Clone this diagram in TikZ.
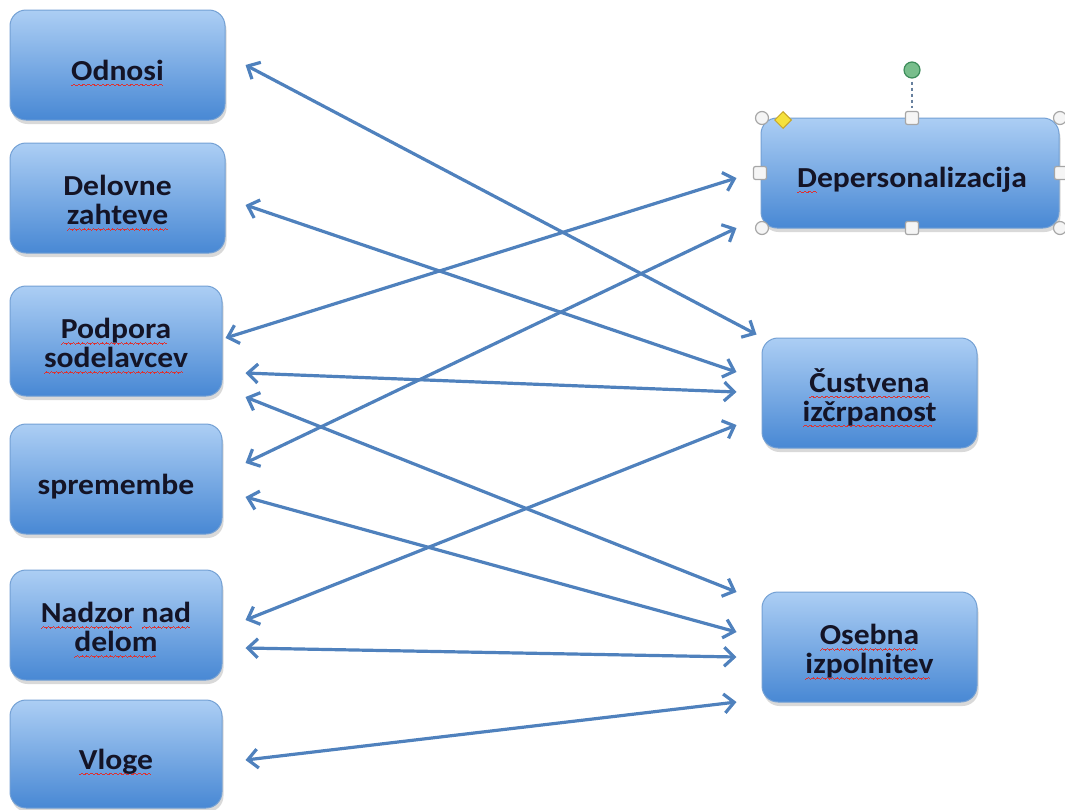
\documentclass[tikz,border=0pt]{standalone}
\usepackage{fontspec}
\usetikzlibrary{arrows.meta,calc,shadows,shapes.geometric}
\newfontfamily\boxfont{Carlito}[FakeStretch=1.09]
\definecolor{arrowc}{RGB}{79,129,189}
\definecolor{boxtop}{RGB}{172,206,244}
\definecolor{boxbot}{RGB}{72,136,212}
\definecolor{boxedge}{RGB}{115,160,212}
\definecolor{txt}{RGB}{20,20,38}
\definecolor{spell}{RGB}{220,50,50}
\definecolor{hgreen}{RGB}{120,190,140}
\definecolor{hgreend}{RGB}{60,140,90}
\definecolor{hyellow}{RGB}{245,225,60}
\definecolor{hyellowd}{RGB}{200,165,40}
\newbox\sqbox
\newcommand\wavebit{\hbox{\rule[-5.6pt]{0.8pt}{0.8pt}\rule[-5.1pt]{0.8pt}{0.8pt}\rule[-4.6pt]{0.8pt}{0.8pt}\rule[-4.1pt]{0.8pt}{0.8pt}\rule[-4.6pt]{0.8pt}{0.8pt}\rule[-5.1pt]{0.8pt}{0.8pt}}}
\newcommand\sqw[1]{\setbox\sqbox=\hbox{#1}\rlap{\hbox to \wd\sqbox{\color{spell}\leaders\wavebit\hfill}}\box\sqbox}
\begin{document}
\begin{tikzpicture}[x=1pt,y=-1pt,
 box/.style={rounded corners=16pt, draw=boxedge, line width=1pt, top color=boxtop, bottom color=boxbot,
   minimum width=215pt, minimum height=110pt,
   drop shadow={shadow xshift=1.5pt, shadow yshift=-4pt, opacity=0.3}, inner sep=0pt},
 lbl/.style={align=center, text=txt, inner sep=0pt,
   font=\boxfont\bfseries\fontsize{29pt}{29pt}\selectfont},
 arr/.style={draw=arrowc, line width=3.2pt, {Straight Barb[length=10pt,width=19pt]}-{Straight Barb[length=10pt,width=19pt]}},
 hcirc/.style={circle, draw=gray!70, fill=gray!8, line width=1.2pt, minimum size=13pt, inner sep=0pt},
 hsq/.style={rectangle, rounded corners=2pt, draw=gray!70, fill=gray!8, line width=1.2pt, minimum size=13pt, inner sep=0pt},
]
\useasboundingbox (0,0) rectangle (1065,809);

\node[box] (odn) at (117.5,65) {};
\node[box] (del) at (117.5,198) {};
\node[box,minimum width=212pt] (pod) at (116,341) {};
\node[box,minimum width=212pt] (spr) at (116,479) {};
\node[box,minimum width=212pt] (nad) at (116,625) {};
\node[box,minimum width=212pt,minimum height=108pt] (vlo) at (116,754) {};
\node[box,minimum width=298pt] (dep) at (910,173) {};
\node[box] (cus) at (869.5,393) {};
\node[box] (ose) at (869.5,647) {};

\node[lbl] (odnT) at ($(odn.center)+(0,8)$) {\sqw{Odnosi}};
\node[lbl] (delT) at ($(del.center)+(0,5)$) {Delovne\\\sqw{zahteve}};
\node[lbl] (podT) at ($(pod.center)+(0,5)$) {\sqw{Podpora}\\\sqw{sodelavcev}};
\node[lbl] (sprT) at ($(spr.center)+(0,8)$) {spremembe};
\node[lbl] (nadT) at ($(nad.center)+(0,5)$) {\sqw{Nadzor} \sqw{nad}\\\sqw{delom}};
\node[lbl] (vloT) at ($(vlo.center)+(0,8)$) {\sqw{Vloge}};
\node[lbl] (depT) at ($(dep.center)+(2,7)$) {\sqw{D}epersonalizacija};
\node[lbl] (cusT) at ($(cus.center)+(0,5)$) {\sqw{Čustvena}\\\sqw{izčrpanost}};
\node[lbl] (oseT) at ($(ose.center)+(0,5)$) {\sqw{Osebna}\\\sqw{izpolnitev}};

\draw[arr] ($(odn.east)+(20,0)$) -- ($(cus.north west)+(-5,-3)$);
\draw[arr] ($(del.east)+(20,7)$) -- ($(cus.west)+(-25,-21)$);
\draw[arr] ($(pod.east)+(3,-3)$) -- ($(dep.west)+(-24,5)$);
\draw[arr] ($(pod.east)+(23,32)$) -- ($(cus.west)+(-25,-1)$);
\draw[arr] ($(pod.east)+(23,56)$) -- ($(ose.west)+(-25,-55)$);
\draw[arr] ($(spr.east)+(23,-16)$) -- ($(dep.west)+(-24,55)$);
\draw[arr] ($(spr.east)+(23,18)$) -- ($(ose.west)+(-25,-15)$);
\draw[arr] ($(nad.east)+(23,-5)$) -- ($(cus.west)+(-25,32)$);
\draw[arr] ($(nad.east)+(23,23)$) -- ($(ose.west)+(-25,10)$);
\draw[arr] ($(vlo.east)+(23,6)$) -- ($(ose.west)+(-25,55)$);

% selection handles
\node[hcirc] (hc1) at (762,118) {};
\node[hcirc] (hc2) at (1060,118) {};
\node[hcirc] (hc3) at (762,228) {};
\node[hcirc] (hc4) at (1060,228) {};
\node[hsq] (hs1) at (912,118) {};
\node[hsq] (hs2) at (912,228) {};
\node[hsq] (hs3) at (760,173) {};
\node[hsq] (hs4) at (1061,173) {};
\node[circle, draw=hgreend, fill=hgreen, line width=1.2pt, minimum size=16pt, inner sep=0pt] (rot) at (912,70) {};
\draw[dashed, draw=gray!50!arrowc, line width=1.8pt] ($(rot.south)+(0,3)$) -- ($(hs1.north)+(0,-3)$);
\node[diamond, draw=hyellowd, fill=hyellow, line width=1pt, minimum size=17pt, inner sep=0pt] (adj) at (783,120) {};
\end{tikzpicture}
\end{document}
